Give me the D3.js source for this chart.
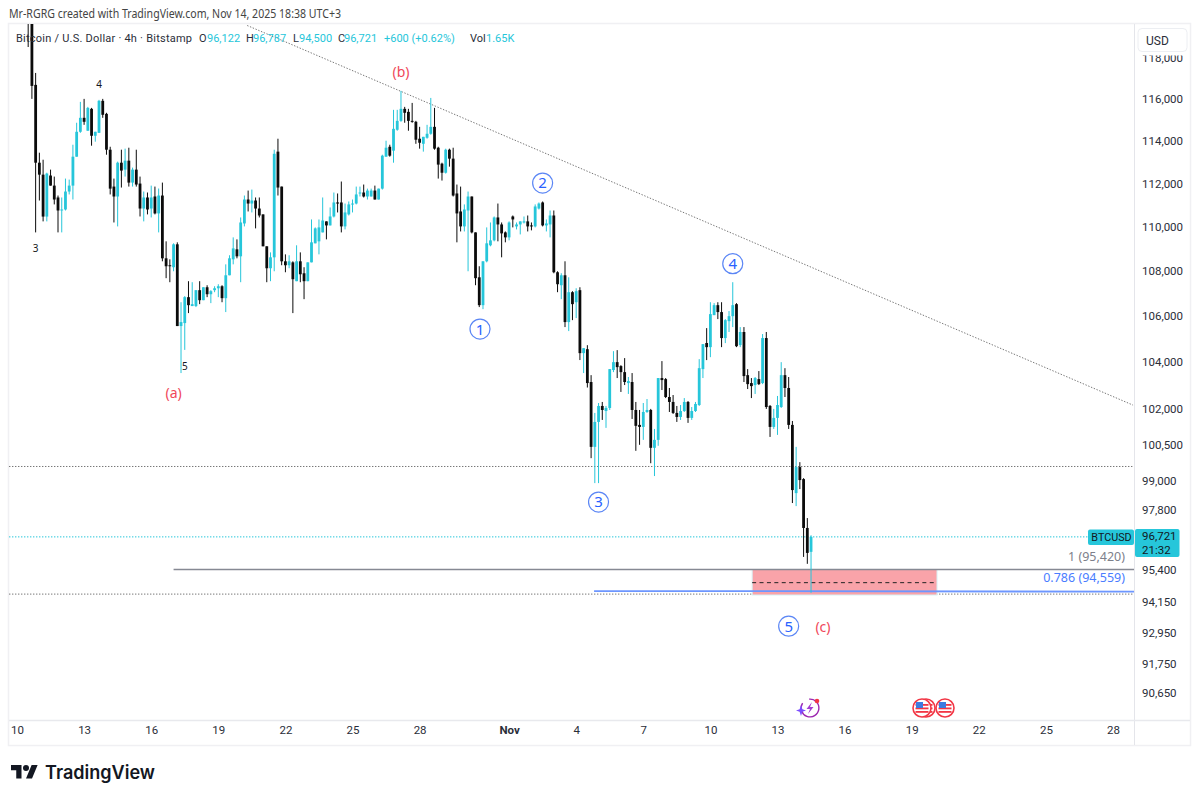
<!DOCTYPE html>
<html><head><meta charset="utf-8">
<script src="https://cdn.jsdelivr.net/npm/d3@7"></script>
<style>html,body{margin:0;background:#fff}svg{display:block}text{font-family:"Noto Sans",sans-serif}</style>
</head><body><svg id="c" width="1200" height="800"></svg>
<script>
const opens=[121000,119800,116690,112980,112420,110480,112380,111910,111360,110760,
110806,111635,111910,113262,114440,115105,114490,115535,114250,114390,
115920,115295,113591,111865,111405,112980,112655,113075,112050,112655,
112005,110850,111360,110850,111405,110625,111450,108582,108270,108180,
109215,105570,105700,106845,106450,106450,107155,106710,107285,106975,
107155,107240,107330,106800,107820,108537,108987,108672,110165,111266,
111080,111220,110850,110580,109125,108135,108627,113500,111865,108447,
108270,108400,107555,108447,107910,107555,108400,109260,109350,109757,
110260,110075,110485,111130,111130,110030,110580,111040,111080,111545,
111590,111405,111405,111680,111266,111770,113262,113730,113545,114535,
114960,115535,115390,114960,114915,114110,113870,114155,114345,114675,
113685,112935,112510,113591,113170,111545,110715,110030,110760,111405,
109757,107730,106490,108447,109170,109395,110440,110120,109757,109530,
110485,110030,110120,110210,110260,110075,110030,110850,111130,110075,
110120,110530,107955,107375,107820,105745,107065,106620,107155,104390,
104560,103145,100405,101450,102125,101910,102040,103660,104000,103830,
103570,103100,103145,101955,101325,101240,101870,101955,100365,100697,
103315,103270,102505,102295,101830,101660,101910,102295,101620,101910,
102165,103700,104830,104650,106050,106490,106185,105045,105785,106005,
106535,104740,105310,103440,103100,103015,103270,103100,105045,102125,
101240,101620,102080,103440,102890,101325,98495,99565,99070,97080,96122];
const highs=[121500,120000,117270,113450,113120,112510,112655,112330,111450,111360,
112237,112190,113826,114870,115870,116014,115630,115580,114440,115966,
116014,115345,113730,112237,113030,113591,113640,113685,112750,113591,
112330,111635,111590,111910,111865,111775,112050,109350,108537,109260,
109305,106620,106890,107555,107510,107155,107555,107285,107375,107155,
107330,107420,107375,108310,108720,109530,109440,110440,111450,111680,
111727,111360,111360,110580,109125,108850,113591,114110,111865,108760,
108720,108447,109170,108850,108180,108400,110349,109985,110349,111360,
110260,110900,111590,111545,112100,111080,111175,111266,111865,111865,
111960,111770,111770,111910,111770,113355,114015,113826,115487,115487,
116400,115630,115535,115820,114960,114675,114200,114770,116060,115580,
113730,112980,113640,113640,113685,111960,111865,111040,111635,111405,
109757,108225,108447,109985,110210,110485,111080,110210,109800,110260,
110530,110210,110260,110485,110530,110210,111040,111130,111175,110349,
110760,110760,108000,107910,108447,107730,107110,107240,107285,104605,
104735,103440,101830,102250,102295,102125,103700,104475,104520,103870,
104175,103360,103530,102295,101955,102250,102420,102000,101155,103315,
104045,103315,102890,102590,102125,102165,102460,102335,102080,102295,
104130,104780,105480,106620,106580,106620,106620,105876,106230,107510,
106580,105525,105525,103700,103315,103360,103615,105220,105310,102165,
102000,102550,104000,103740,103360,101490,100405,99770,99110,97480,96787];
const lows=[118540,116014,109757,111220,110260,110260,111910,111040,109757,109757,
110760,111500,111266,113262,114390,114770,114490,113780,113970,114390,
115105,113355,111500,110210,110030,111820,112330,111865,111865,111865,
110485,110260,110580,110440,110580,109757,108447,107690,107510,108000,
105570,103530,104530,106140,106450,106405,106535,106710,106845,106580,
107065,106845,106620,106185,107820,108310,108582,107510,110030,110715,
110670,109940,110440,109125,107510,107555,108000,111450,108270,107955,
108135,106140,107555,107510,106756,107555,108400,109260,108760,109757,
109440,110075,110440,110670,109757,109893,110530,110670,111040,111405,
111360,111266,111405,111266,111266,111727,113262,113262,112980,114490,
114915,114870,114490,114870,113870,113640,113500,114110,114300,113591,
112237,112145,112470,112795,111405,109305,109800,109800,108000,109712,
107375,106405,106315,108400,109125,109350,109350,108627,109305,109395,
109985,109893,109665,110165,109800,109850,109985,110806,110030,109800,
109530,107910,107065,106756,105525,105350,105830,105920,104090,103530,
102910,99935,98905,98905,101534,101200,101955,103570,103315,102720,
103015,102635,101575,100240,100490,100697,101830,99725,99195,100450,
102803,102460,101870,101785,101450,101534,101870,101410,101534,101870,
102125,103315,104088,104215,106050,105876,104650,104825,105310,105525,
104650,104650,103145,102845,102460,102635,103015,103055,102000,100820,
101155,100905,102040,102505,101155,98090,97965,98660,95920,95645,94500];
const closes=[119800,116640,112980,112420,110480,112470,111910,111266,110760,110806,
111635,111910,113262,114440,115105,114915,115580,114250,114440,115920,
115250,113591,111770,111405,112980,112610,113075,112050,112655,111960,
110850,111360,110806,111360,110625,111450,108582,108225,108225,109215,
105570,105745,106845,106490,106535,107155,106710,107285,106975,107110,
107240,107330,106800,107820,108582,109030,108672,110210,111266,111080,
111220,110850,110530,109125,108135,108627,113400,111820,108447,108270,
108447,107643,108447,107865,107555,108400,109305,109940,109985,110300,
110075,110485,111130,111080,110030,110670,111040,111080,111500,111590,
111405,111680,111680,111266,111770,113310,113685,113310,114580,114960,
115535,115345,114960,114915,114062,113920,114200,114345,114675,113640,
112890,112510,113591,113170,111450,110625,110030,110806,111405,109757,
107690,106490,108447,109260,109395,110440,110120,109712,109530,110210,
110349,110120,110260,110260,110030,110030,110945,111080,110075,110165,
110530,107955,107420,107820,105745,107065,106535,107110,104390,104605,
103100,100405,101450,102125,101955,102040,103700,104000,103785,103570,
103145,103185,101955,101285,101240,101870,101955,100365,100697,103315,
103229,102505,102295,101830,101660,101910,102295,101620,101910,102210,
103740,104780,104650,106095,106490,106185,105045,105830,106005,106490,
104690,105310,103400,103055,102970,103315,103055,105045,102080,101240,
101620,102165,103440,102890,101325,98620,99565,99030,97080,96080,96721];

const yTickValues=[118000,116000,114000,112000,110000,108000,106000,104000,102000,100500,99000,97800,95400,94150,92950,91750,90650];
const xTickDates=["2025-10-10","2025-10-13","2025-10-16","2025-10-19","2025-10-22","2025-10-25","2025-10-28","2025-11-01","2025-11-04","2025-11-07","2025-11-10","2025-11-13","2025-11-16","2025-11-19","2025-11-22","2025-11-25","2025-11-28"];
const xTickLabels=["10","13","16","19","22","25","28","Nov","4","7","10","13","16","19","22","25","28"];
const waveLabels=[["(b)",100,117316,"#f0475a"],["(a)",39,102670,"#f0475a"],["(c)",213.2,93160,"#f0475a"],["4",19,116730,"#131722"],["3",2,109005,"#131722"],["5",42,103830,"#131722"]];
const circledLabels=[["1",121.2,105437],["2",138,112030],["3",153,98130],["4",189,108340],["5",204,93200]];
const levelPrices={last:96721,fib1:95420,fib786:94559,dotTop:99590,dotLow:94450};

const UP="#26c6da",DOWN="#0b0b0b";
const t0=Date.UTC(2025,9,10,12),H4=4*3600e3;
const x=d3.scaleUtc().domain([new Date("2025-10-10T00:00Z"),new Date("2025-11-28T00:00Z")]).range([17,1113]);
const y=d3.scaleLog().domain([118000,90650]).range([58,693]);
const xi=i=>x(new Date(t0+i*H4));
const PL=9,PR=1134,PT=24,PB=720,PBB=745,PRR=1190;
const svg=d3.select("#c");
svg.append("rect").attr("width",1200).attr("height",800).attr("fill","#fff");
svg.append("defs").append("clipPath").attr("id","plot").append("rect").attr("x",PL).attr("y",PT).attr("width",PR-PL).attr("height",PB-PT);

// frame
const frame=svg.append("g").attr("fill","none");
frame.append("rect").attr("x",PL-.5).attr("y",PT-.5).attr("width",PRR-PL+1).attr("height",PBB-PT+1).attr("stroke","#f0f0f3").attr("stroke-width",1.5);
frame.append("line").attr("x1",PR+.5).attr("x2",PR+.5).attr("y1",PT).attr("y2",PBB).attr("stroke","#e4e5ea");
frame.append("line").attr("x1",PL).attr("x2",PRR).attr("y1",PB+.5).attr("y2",PB+.5).attr("stroke","#e8e9ed").attr("stroke-width",1.5);

const plot=svg.append("g").attr("clip-path","url(#plot)");
// horizontal dotted levels
const hdot=(p,col,x1)=>plot.append("line").attr("x1",x1).attr("x2",PR).attr("y1",y(p)).attr("y2",y(p)).attr("stroke",col).attr("stroke-width",1).attr("stroke-dasharray","1.4 1.6");
hdot(levelPrices.dotTop,"#777",PL);
hdot(levelPrices.last,"#26c6da",PL);
hdot(levelPrices.dotLow,"#777",PL);
// trend line
plot.append("line").attr("x1",x(new Date("2025-10-20T07:00Z"))).attr("y1",y(119604)).attr("x2",x(new Date("2025-11-28T21:30Z"))).attr("y2",y(102160)).attr("stroke","#777").attr("stroke-width",1).attr("stroke-dasharray","1.4 1.6");
// target box
plot.append("rect").attr("x",xi(194.2)).attr("width",xi(243.8)-xi(194.2)).attr("y",y(95420)).attr("height",y(94414)-y(95420)).attr("fill","#f9a3a9").attr("stroke","#d8f3f7").attr("stroke-width",1);
plot.append("line").attr("x1",xi(194.2)).attr("x2",xi(243.8)).attr("y1",y(94900)).attr("y2",y(94900)).attr("stroke","#222").attr("stroke-width",1).attr("stroke-dasharray","4 3.4");
// fib lines
plot.append("line").attr("x1",xi(39)).attr("x2",PR).attr("y1",y(levelPrices.fib1)).attr("y2",y(levelPrices.fib1)).attr("stroke","#868993").attr("stroke-width",1.7);
plot.append("line").attr("x1",xi(151.8)).attr("x2",PR).attr("y1",y(levelPrices.fib786)-.3).attr("y2",y(levelPrices.fib786)-.3+.6).attr("stroke","#6d96ff").attr("stroke-width",1.8);

// candles
const idx=d3.range(opens.length);
const col=i=>closes[i]>=opens[i]?UP:DOWN;
plot.append("g").selectAll("line").data(idx).join("line")
 .attr("x1",xi).attr("x2",xi).attr("y1",i=>y(highs[i])).attr("y2",i=>y(lows[i])).attr("stroke",col).attr("stroke-width",1);
plot.append("g").selectAll("rect").data(idx).join("rect")
 .attr("x",i=>xi(i)-1.4).attr("width",2.8)
 .attr("y",i=>y(Math.max(opens[i],closes[i])))
 .attr("height",i=>Math.max(1,Math.abs(y(opens[i])-y(closes[i])))).attr("fill",col);

// fib labels
svg.append("text").attr("x",1125).attr("y",y(95420)-9).attr("text-anchor","end").attr("font-size",12.5).attr("fill","#7d808a").text("1 (95,420)");
svg.append("text").attr("x",1125).attr("y",y(94559)-9).attr("text-anchor","end").attr("font-size",12.5).attr("fill","#4a7dff").text("0.786 (94,559)");

// wave labels
svg.append("g").selectAll("text").data(waveLabels).join("text").attr("x",d=>xi(d[1])).attr("y",d=>y(d[2])).attr("dy","0.35em")
 .attr("text-anchor","middle").attr("font-size",d=>d[0].length>1?14:10).attr("fill",d=>d[3]).text(d=>d[0]);
const cg=svg.append("g").selectAll("g").data(circledLabels).join("g").attr("transform",d=>`translate(${xi(d[1])},${y(d[2])})`);
cg.append("circle").attr("r",10).attr("fill","#fff").attr("stroke","#5b86f5").attr("stroke-width",1.2);
cg.append("text").attr("dy","0.36em").attr("text-anchor","middle").attr("font-size",15).attr("fill","#2962ff").text(d=>d[0]);

// axes
const yAxis=d3.axisRight(y).tickValues(yTickValues).tickSize(0).tickFormat(d3.format(","));
const gy=svg.append("g").attr("transform",`translate(${PR+5},0)`).call(yAxis);
gy.select(".domain").remove();
gy.selectAll("text").attr("font-size",11.5).attr("fill","#2a2e39").attr("font-family","Roboto,sans-serif").style("font-family","Roboto,sans-serif");
const xAxis=d3.axisBottom(x).tickValues(xTickDates.map(d=>new Date(d+"T00:00Z"))).tickSize(0).tickFormat((d,i)=>xTickLabels[i]);
const gx=svg.append("g").attr("transform",`translate(0,${PB+3})`).call(xAxis);
gx.select(".domain").remove();
gx.selectAll("text").attr("font-size",11.5).attr("fill","#2a2e39").style("font-family","Roboto,sans-serif").attr("font-weight",(d,i)=>xTickLabels[i]==="Nov"?700:400);

// USD box
svg.append("rect").attr("x",1138).attr("y",50).attr("width",49).attr("height",5.5).attr("fill","#fff");
svg.append("rect").attr("x",1138).attr("y",28.5).attr("width",49).attr("height",23).attr("rx",4).attr("fill","#fff").attr("stroke","#eceef2");
svg.append("text").attr("x",1146).attr("y",45).attr("font-size",12).style("font-family","Roboto,sans-serif").attr("fill","#2a2e39").text("USD");

// price tags
const ly=y(levelPrices.last);
svg.append("rect").attr("x",1088).attr("y",ly-7.5).attr("width",46).attr("height",15.5).attr("rx",2).attr("fill",UP);
svg.append("text").attr("x",1111.5).attr("y",ly+4).attr("text-anchor","middle").attr("font-size",10.8).style("font-family","Roboto,sans-serif").attr("fill","#131722").text("BTCUSD");
svg.append("rect").attr("x",1135).attr("y",ly-8).attr("width",44.5).attr("height",28).attr("rx",2).attr("fill",UP);
svg.append("text").attr("x",1142).attr("y",ly+3.5).attr("font-size",11.5).style("font-family","Roboto,sans-serif").attr("fill","#131722").text("96,721");
svg.append("text").attr("x",1142).attr("y",ly+17).attr("font-size",11.5).style("font-family","Roboto,sans-serif").attr("fill","#131722").text("21:32");

// header & legend
svg.append("text").attr("x",9).attr("y",18).attr("font-size",12).attr("fill","#444").attr("textLength",332).attr("lengthAdjust","spacingAndGlyphs").text("Mr-RGRG created with TradingView.com, Nov 14, 2025 18:38 UTC+3");
const legend=[[16,"Bitcoin / U.S. Dollar · 4h · Bitstamp","#2a2e39"],[199,"O","#2a2e39"],[207,"96,122",UP],[246,"H","#2a2e39"],[253,"96,787",UP],[293,"L","#2a2e39"],[299,"94,500",UP],[338,"C","#2a2e39"],[344,"96,721",UP],[384,"+600 (+0.62%)",UP],[470,"Vol","#2a2e39"],[486,"1.65K",UP]];
svg.append("g").selectAll("text").data(legend).join("text").attr("x",d=>d[0]).attr("y",42).attr("font-size",11).style("font-family","Roboto,sans-serif").attr("fill",d=>d[2]).attr("textLength",(d,i)=>i===0?176:null).text(d=>d[1]);

// event icons
const ev=svg.append("g");
const flag=(cx)=>{const g=ev.append("g").attr("transform",`translate(${cx},708)`);
 g.append("circle").attr("r",9).attr("fill","#fff").attr("stroke","#f23645").attr("stroke-width",1.6);
 [-4,-.5,3].forEach(s=>g.append("rect").attr("x",-6.5).attr("y",s).attr("width",13).attr("height",1.8).attr("fill","#f23645"));
 g.append("rect").attr("x",-6).attr("y",-6).attr("width",7).attr("height",6).attr("fill","#3d7be0");
};
flag(926);flag(922);flag(945);
const bolt=ev.append("g").attr("transform","translate(810,708)");
bolt.append("path").attr("d",d3.arc()({innerRadius:8.2,outerRadius:9.6,startAngle:-0.1,endAngle:5.3})).attr("fill","#9c27b0");
bolt.append("path").attr("d","M2,-6 L-3.5,1 L0,1 L-2,6 L3.5,-1 L0,-1 Z").attr("fill","#a23fd0");
bolt.append("path").attr("d","M-9,-3 L-7.6,1.2 L-4,2.5 L-7.6,3.8 L-9,8 L-10.4,3.8 L-14,2.5 L-10.4,1.2 Z").attr("fill","#7c4dff");
bolt.append("circle").attr("cx",7).attr("cy",-7).attr("r",2.3).attr("fill","#f23645");

// logo
const logo=svg.append("g").attr("transform","translate(11,762) scale(.75)").attr("fill","#131722");
logo.append("path").attr("d","M14 22H7V11H0V4h14v18zM28 22h-8l7.5-18h8L28 22z");
logo.append("circle").attr("cx",20).attr("cy",8).attr("r",4);
svg.append("text").attr("x",45).attr("y",778.5).attr("font-size",18.5).attr("font-weight",600).attr("fill","#131722").attr("textLength",110).attr("lengthAdjust","spacingAndGlyphs").style("font-family","Inter,sans-serif").text("TradingView");
</script></body></html>
